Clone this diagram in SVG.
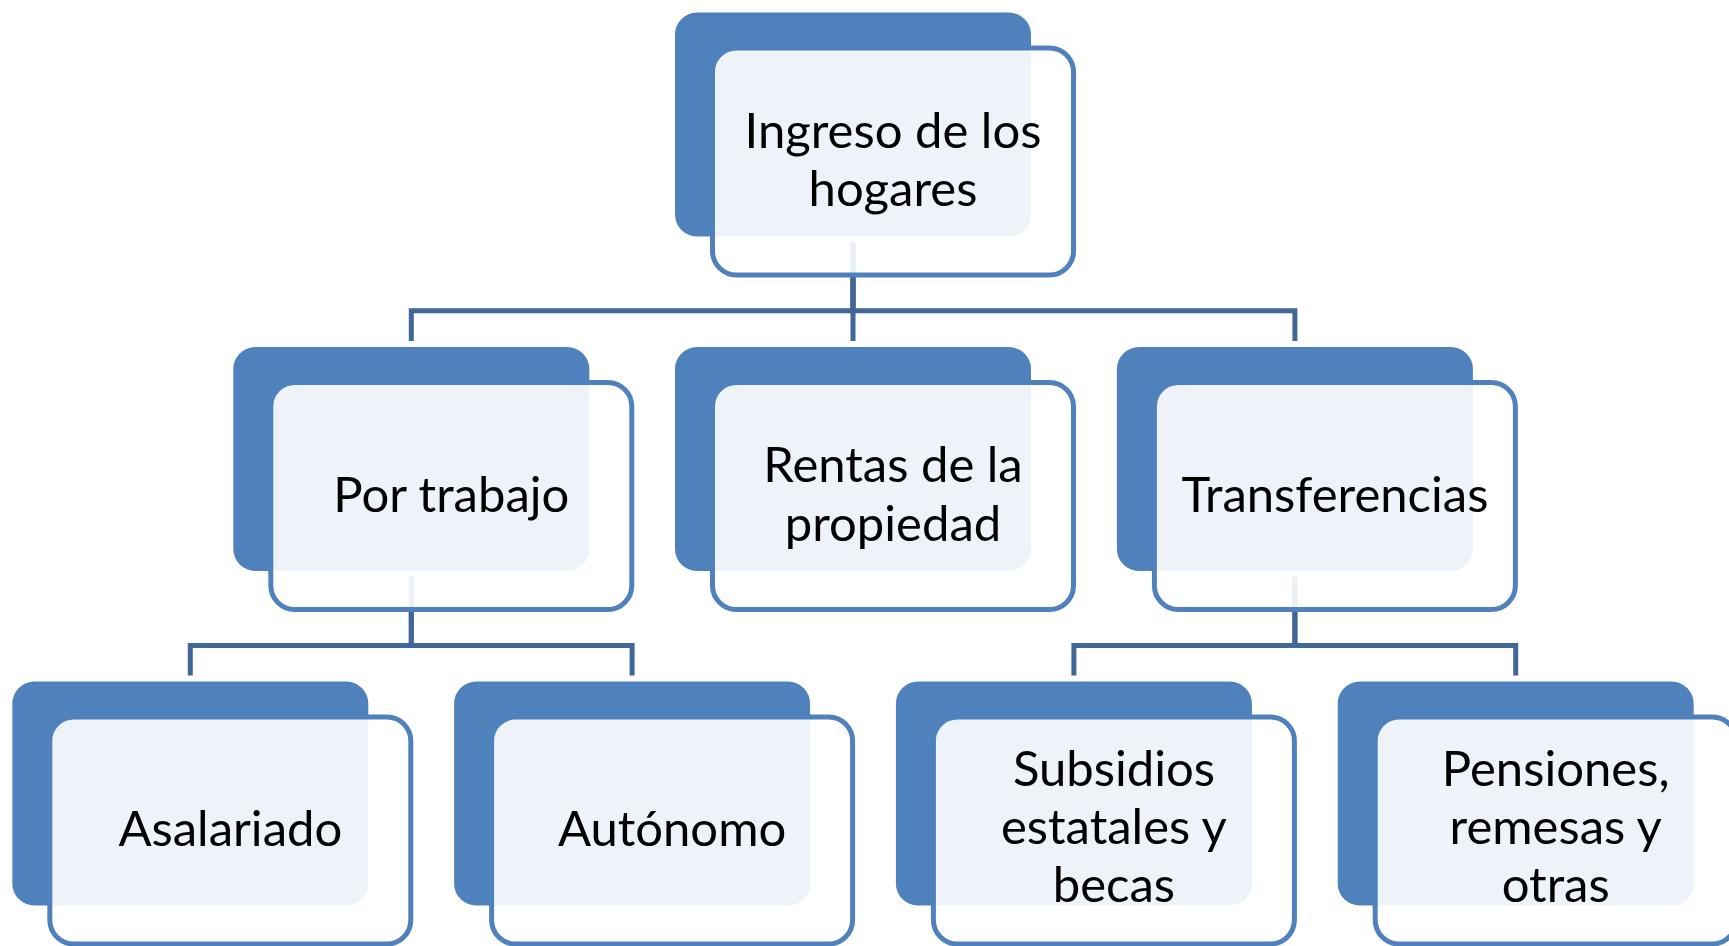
<svg xmlns="http://www.w3.org/2000/svg" width="1729" height="946" viewBox="0 0 1729 946">
<style>
.bg{fill:#4F81BD}
.fg{fill:#FFFFFF;fill-opacity:0.9;stroke:#4F81BD;stroke-width:5}
.t{font-family:Lato,"Open Sans","Liberation Sans",sans-serif;font-size:49px;fill:#000;text-anchor:middle}
.c{fill:none;stroke:#41679A;stroke-width:5}
</style>
<rect width="1729" height="946" fill="#FFFFFF"/>
<g id="connectors">
<path class="c" d="M853,242 V310.7 H411.3 V341"/>
<path class="c" d="M853,242 V341"/>
<path class="c" d="M853,242 V310.7 H1294.9 V341"/>
<path class="c" d="M411.3,576.5 V645.5 H190.3 V675.5"/>
<path class="c" d="M411.3,576.5 V645.5 H632.1 V675.5"/>
<path class="c" d="M1294.9,576.5 V645.5 H1073.9 V675.5"/>
<path class="c" d="M1294.9,576.5 V645.5 H1515.7 V675.5"/>
</g>
<g id="n-ingreso">
<rect class="bg" x="675" y="12.5" width="356" height="224" rx="22"/>
<rect class="fg" x="712.5" y="48" width="361" height="227" rx="24"/>
<text class="t" x="893" y="147.7">Ingreso de los</text>
<text class="t" x="893" y="206">hogares</text>
</g>
<g id="n-trabajo">
<rect class="bg" x="233.3" y="347" width="356" height="224" rx="22"/>
<rect class="fg" x="270.8" y="382.5" width="361" height="227" rx="24"/>
<text class="t" x="451.3" y="511.5">Por trabajo</text>
</g>
<g id="n-rentas">
<rect class="bg" x="675" y="347" width="356" height="224" rx="22"/>
<rect class="fg" x="712.5" y="382.5" width="361" height="227" rx="24"/>
<text class="t" x="893" y="482.2">Rentas de la</text>
<text class="t" x="893" y="540.5">propiedad</text>
</g>
<g id="n-transferencias">
<rect class="bg" x="1116.9" y="347" width="356" height="224" rx="22"/>
<rect class="fg" x="1154.4" y="382.5" width="361" height="227" rx="24"/>
<text class="t" x="1334.9" y="511.5">Transferencias</text>
</g>
<g id="n-asalariado">
<rect class="bg" x="12.3" y="681.5" width="356" height="224" rx="22"/>
<rect class="fg" x="49.8" y="717" width="361" height="227" rx="24"/>
<text class="t" x="230.3" y="846">Asalariado</text>
</g>
<g id="n-autonomo">
<rect class="bg" x="454.1" y="681.5" width="356" height="224" rx="22"/>
<rect class="fg" x="491.6" y="717" width="361" height="227" rx="24"/>
<text class="t" x="672.1" y="846">Autónomo</text>
</g>
<g id="n-subsidios">
<rect class="bg" x="895.9" y="681.5" width="356" height="224" rx="22"/>
<rect class="fg" x="933.4" y="717" width="361" height="227" rx="24"/>
<text class="t" x="1113.9" y="786.3">Subsidios</text>
<text class="t" x="1113.9" y="844">estatales y</text>
<text class="t" x="1113.9" y="902">becas</text>
</g>
<g id="n-pensiones">
<rect class="bg" x="1337.7" y="681.5" width="356" height="224" rx="22"/>
<rect class="fg" x="1375.2" y="717" width="361" height="227" rx="24"/>
<text class="t" x="1555.7" y="786.3">Pensiones,</text>
<text class="t" x="1555.7" y="844">remesas y</text>
<text class="t" x="1555.7" y="902">otras</text>
</g>
</svg>
